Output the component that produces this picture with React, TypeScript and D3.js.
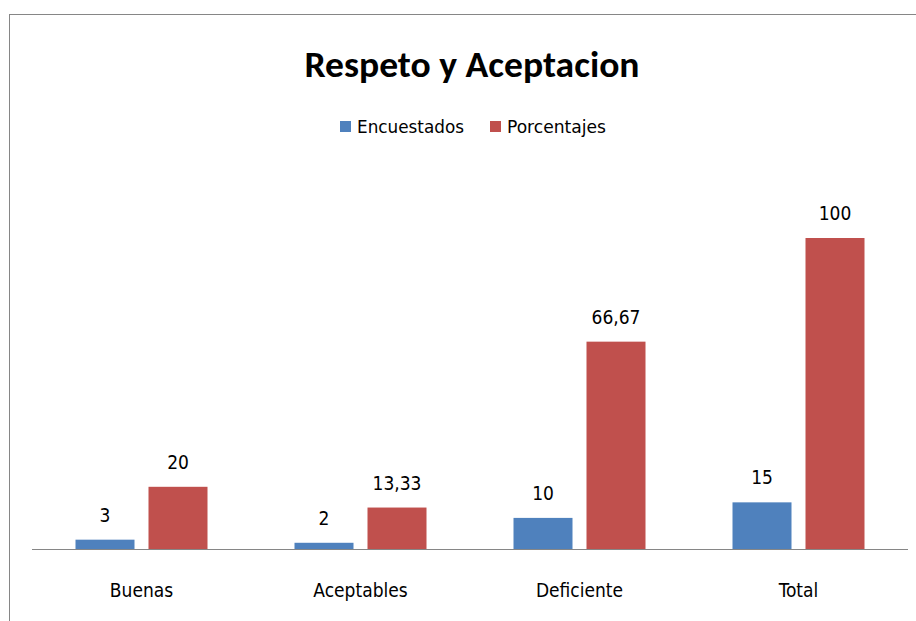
import React from "react";
import * as d3 from "d3";

const categories = ["Buenas", "Aceptables", "Deficiente", "Total"];
const seriesNames = ["Encuestados", "Porcentajes"];
const encuestados = [3, 2, 10, 15];
const porcentajes = [20, 13.33, 66.67, 100];
const colors = ["#4F81BD", "#C0504D"];
const valueLabels = [
  ["3", "2", "10", "15"],
  ["20", "13,33", "66,67", "100"],
];

const W = 916;
const H = 621;
const FONT = "'Liberation Sans Narrow', 'DejaVu Sans Condensed', 'Liberation Sans', sans-serif";

export default function App() {
  const axisY = 549;
  const x0 = d3.scaleBand<string>().domain(categories).range([32, 908]).paddingInner(0).paddingOuter(0);
  const groupW = 132;
  const off = (x0.bandwidth() - groupW) / 2;
  const x1 = d3.scaleBand<string>().domain(seriesNames).range([off, off + groupW]).paddingInner(14 / 73);
  const y = d3.scaleLinear().domain([0, 120]).range([axisY, axisY - 311 * 1.2]);
  const data = [encuestados, porcentajes];

  return (
    <svg width={W} height={H} style={{ position: "absolute", left: 0, top: 0, background: "#fff" }}>
      <rect x={9.5} y={14.5} width={1000} height={1000} fill="#fff" stroke="#868686" strokeWidth={1} />
      <text x={472} y={77} textAnchor="middle" fontFamily="Calibri, 'Open Sans', 'Liberation Sans', sans-serif" fontWeight="bold" fontSize={36} textLength={335} lengthAdjust="spacingAndGlyphs" fill="#000">
        Respeto y Aceptacion
      </text>
      {/* legend */}
      <rect x={340} y={121} width={11} height={11} fill={colors[0]} />
      <text x={357} y={133} fontFamily={FONT} fontSize={18} textLength={107} lengthAdjust="spacingAndGlyphs" fill="#000">Encuestados</text>
      <rect x={490} y={121} width={11} height={11} fill={colors[1]} />
      <text x={507} y={133} fontFamily={FONT} fontSize={18} textLength={99} lengthAdjust="spacingAndGlyphs" fill="#000">Porcentajes</text>
      {/* bars */}
      {categories.map((c, ci) => (
        <g key={c} transform={`translate(${x0(c)},0)`}>
          {seriesNames.map((s, si) => {
            const v = data[si][ci];
            const bx = x1(s)!;
            const bw = x1.bandwidth();
            return (
              <g key={s}>
                <rect x={bx} y={y(v)} width={bw} height={axisY - y(v)} fill={colors[si]} />
                <text x={bx + bw / 2} y={y(v) - 18} textAnchor="middle" fontFamily={FONT} fontSize={19} fill="#000">
                  {valueLabels[si][ci]}
                </text>
              </g>
            );
          })}
          <text x={x0.bandwidth() / 2} y={597} textAnchor="middle" fontFamily={FONT} fontSize={19} fill="#000">
            {c}
          </text>
        </g>
      ))}
      <line x1={32} x2={908} y1={axisY + 0.5} y2={axisY + 0.5} stroke="#868686" strokeWidth={1} />
    </svg>
  );
}
